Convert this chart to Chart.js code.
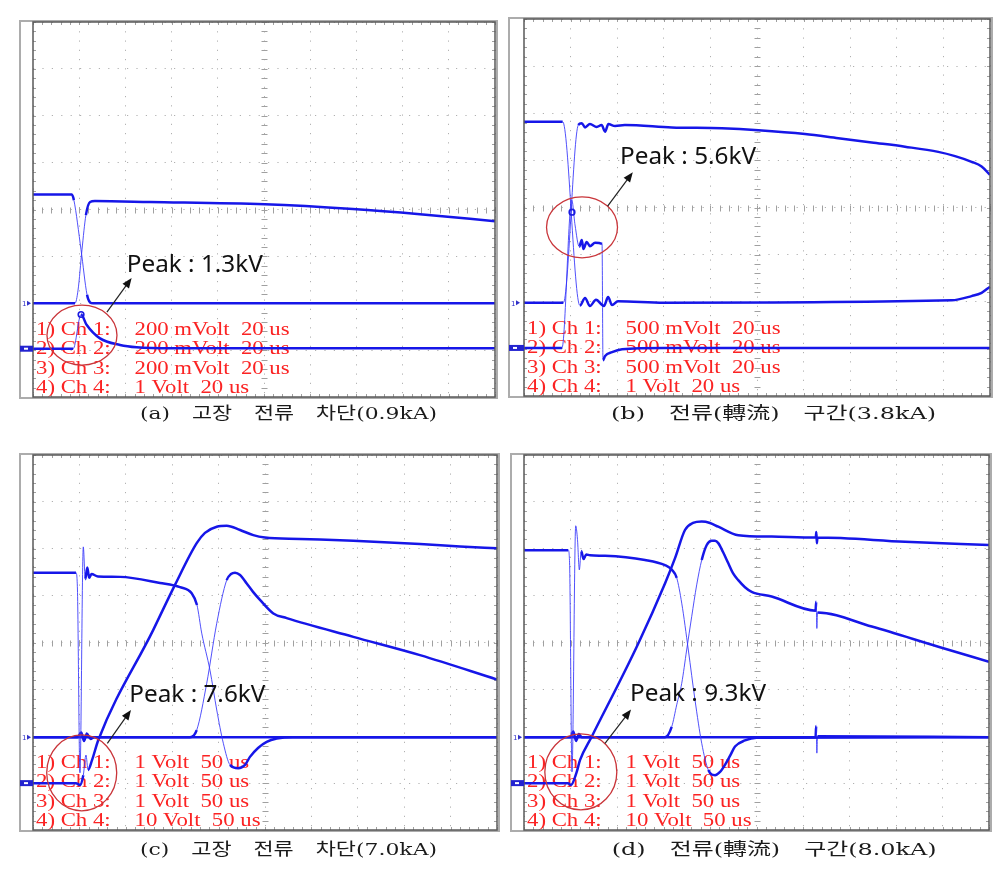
<!DOCTYPE html>
<html><head><meta charset="utf-8">
<script src="https://cdn.jsdelivr.net/npm/chart.js@4.4.1/dist/chart.umd.min.js"></script>
<style>
html,body{margin:0;padding:0;background:#fff;}
body{width:1007px;height:882px;position:relative;overflow:hidden;}
canvas{position:absolute;}
</style></head><body>
<canvas id="pa" width="503" height="441" style="left:0;top:0"></canvas>
<canvas id="pb" width="504" height="441" style="left:503px;top:0"></canvas>
<canvas id="pc" width="503" height="441" style="left:0;top:441px"></canvas>
<canvas id="pd" width="504" height="441" style="left:503px;top:441px"></canvas>
<script>
// ---- channel labels / captions ----
const chNames = ['1) Ch 1:', '2) Ch 2:', '3) Ch 3:', '4) Ch 4:'];
const aScales = ['200 mVolt  20 us', '200 mVolt  20 us', '200 mVolt  20 us', '1 Volt  20 us'];
const bScales = ['500 mVolt  20 us', '500 mVolt  20 us', '500 mVolt  20 us', '1 Volt  20 us'];
const cScales = ['1 Volt  50 us', '1 Volt  50 us', '1 Volt  50 us', '10 Volt  50 us'];
const dScales = ['1 Volt  50 us', '1 Volt  50 us', '1 Volt  50 us', '10 Volt  50 us'];
const captions = ['(a)\u3000고장\u3000전류\u3000차단(0.9kA)', '(b)\u3000전류(轉流)\u3000구간(3.8kA)',
                  '(c)\u3000고장\u3000전류\u3000차단(7.0kA)', '(d)\u3000전류(轉流)\u3000구간(8.0kA)'];
const peaks = ['Peak : 1.3kV', 'Peak : 5.6kV', 'Peak : 7.6kV', 'Peak : 9.3kV'];

// ---- traces: [time (us), screen divisions] ----
const aCh1 = [[0,0.32],[16.8,0.32],[17.7,0.2],[20.8,-0.86],[23.4,-1.82],[24.7,-1.98],[26,-2.0],[200,-2.0]];
const aCh2 = [[0,-2.0],[18.2,-2.0],[19.5,-1.72],[21.2,-0.86],[22.9,-0.12],[24.7,0.16],[26.8,0.18],[50.6,0.16],[100.4,0.11],[138.5,0.01],[167.5,-0.10],[200,-0.25]];
const aCh3 = [[0,-2.97],[17.4,-2.97],[20.8,-2.24],[23.2,-2.46],[29,-2.75],[37.7,-2.89],[44.9,-2.94],[60,-2.96],[200,-2.96]];

const bCh1 = [[0,1.82],[16.6,1.82],[24.0,-2.08],[26.2,-1.92],[28.3,-2.09],[30.9,-1.96],[34.3,-2.09],[36.1,-1.9],[37.8,-2.07],[40.3,-1.99],[60,-2.02],[183.6,-1.97],[192.1,-1.88],[196.4,-1.81],[200,-1.68]];
const bCh2 = [[0,-2.02],[16.9,-2.02],[23.3,1.75],[24.8,1.79],[26.2,1.70],[28.3,1.77],[31.2,1.71],[33.3,1.75],[34.8,1.61],[36.2,1.77],[39.1,1.73],[43.3,1.75],[63.4,1.70],[84.9,1.68],[100.6,1.64],[120.6,1.56],[134.9,1.47],[149.2,1.38],[163.5,1.29],[177.8,1.18],[185,1.09],[192.1,0.97],[196.4,0.87],[200,0.69]];
const bCh3 = [[0,-2.98],[16.3,-2.98],[20.5,0.16],[21.9,-0.37],[23.7,-0.83],[24.8,-0.69],[25.5,-0.88],[26.9,-0.73],[28.3,-0.82],[30.5,-0.75],[33.5,-0.77],[33.9,-3.24],[34.8,-3.15],[37.8,-3.07],[42.1,-3.01],[60,-2.98],[200,-2.98]];

const cCh1 = [[0,1.49],[46.3,1.49],[47.8,1.2],[50.6,-2.78],[54.2,2.04],[56.3,1.35],[58.5,1.6],[60.5,1.38],[63,1.46],[70,1.41],[93.8,1.40],[136.9,1.27],[158.4,1.18],[171,1.05],[176.7,0.80],[181.8,0.20],[190.7,-0.59],[198,-1.44],[205.1,-2.15],[212.3,-2.61],[221.2,-2.68],[228.5,-2.61],[233.8,-2.44],[242.5,-2.25],[251.8,-2.12],[262.6,-2.05],[280,-2.02],[500,-2.02]];
const cCh2 = [[0,-3.0],[46.3,-3.0],[50.6,-3.04],[54.2,-2.83],[57.1,-2.4],[59.3,-2.72],[63.6,-2.51],[70.4,-2.08],[129.6,0.27],[153,1.23],[176.4,2.12],[185.3,2.34],[198,2.47],[208.7,2.49],[223.1,2.40],[237.4,2.29],[250,2.24],[287.7,2.21],[345.2,2.17],[417,2.10],[460.1,2.05],[500,2.01]];
const cCh3 = [[0,-2.02],[169.2,-2.02],[176.4,-1.87],[187.2,-0.87],[198,0.41],[208.7,1.33],[213.4,1.46],[217.7,1.49],[223.1,1.44],[230.3,1.26],[237.1,1.08],[244.6,0.91],[259,0.62],[273.4,0.52],[345.2,0.12],[417,-0.27],[500,-0.79]];
const cCh4 = [[0,-2.02],[48,-2.02],[52,-1.92],[55,-2.1],[58,-1.94],[62,-2.06],[66,-2.02],[500,-2.02]];

const dCh1 = [[0,1.97],[47.6,1.97],[49,1.7],[51.6,-2.76],[55.6,2.49],[57.5,2.2],[59.5,1.55],[61.5,1.95],[64,1.78],[67,1.88],[71,1.86],[87.1,1.85],[130.1,1.76],[151.6,1.65],[159.1,1.55],[164.2,1.38],[169.6,0.84],[176.7,-0.16],[183.9,-1.23],[191.1,-2.15],[198.2,-2.72],[205.4,-2.83],[210.8,-2.76],[216.1,-2.61],[221.5,-2.42],[226.9,-2.22],[237.6,-2.09],[250,-2.03],[500,-2.02]];
const dCh2 = [[0,-3.0],[47.3,-3.0],[50.5,-3.04],[56.7,-2.76],[60.2,-2.51],[72.8,-2.01],[122.9,-0.02],[151.6,1.26],[162.4,1.80],[173.1,2.40],[181.7,2.55],[191.1,2.58],[200,2.55],[208.9,2.47],[230.4,2.29],[266.3,2.26],[313.8,2.24],[314.3,2.36],[314.9,2.12],[315.5,2.24],[409.7,2.15],[500,2.08]];
const dCh3 = [[0,-2.02],[151.6,-2.02],[158.8,-1.80],[164.2,-1.33],[169.6,-0.87],[174.9,-0.16],[180.3,0.55],[185.7,1.23],[191.1,1.76],[196.5,2.08],[201.8,2.17],[205.4,2.17],[208.9,2.12],[214,1.93],[219.7,1.69],[224.7,1.48],[230.4,1.33],[237.6,1.18],[244.8,1.08],[266.3,0.98],[313.5,0.68],[314.2,0.87],[314.9,0.30],[315.6,0.64],[373.9,0.34],[445.5,-0.09],[500,-0.41]];
const dCh4 = [[0,-2.02],[50,-2.02],[53,-1.9],[56,-2.1],[59,-1.95],[62,-2.02],[313.5,-2.02],[314.2,-1.78],[314.9,-2.36],[315.6,-2.0],[500,-2.02]];

// ---- drawing helpers ----
function fitText(ctx, text, x, y, font, width, sx) {
  ctx.font = font;
  const w = ctx.measureText(text).width;
  const k = width ? width / w : (sx || 1);
  ctx.save(); ctx.translate(x, y); ctx.scale(k, 1); ctx.fillText(text, 0, 0); ctx.restore();
}

const scopePlugin = {
  id: 'scopeDeco',
  beforeDatasetsDraw(chart, args, o) {
    const {ctx, chartArea: a, scales: {x, y}} = chart;
    ctx.save();
    // outer screen frame + left strip
    ctx.strokeStyle = '#acacac'; ctx.lineWidth = 2;
    ctx.strokeRect(a.left - o.strip, a.top - 1, a.right - a.left + o.strip + 2, a.bottom - a.top + 2);
    // minor ticks
    ctx.strokeStyle = '#a0a0a0'; ctx.lineWidth = 1;
    const xs = x.options.ticks.stepSize / 5;
    const xc = Math.round(x.getPixelForValue((x.min + x.max) / 2)) + 0.5;
    const yc = Math.round(y.getPixelForValue(0)) + 0.5;
    ctx.beginPath();
    for (let i = 0; i <= 50; i++) {
      const px = Math.round(x.getPixelForValue(x.min + i * xs)) + 0.5;
      ctx.moveTo(px, yc - 3); ctx.lineTo(px, yc + 3);
      ctx.moveTo(px, a.top); ctx.lineTo(px, a.top + 3);
      ctx.moveTo(px, a.bottom); ctx.lineTo(px, a.bottom - 3);
    }
    for (let i = 0; i <= 40; i++) {
      const py = Math.round(y.getPixelForValue(y.min + i * 0.2)) + 0.5;
      ctx.moveTo(xc - 3, py); ctx.lineTo(xc + 3, py);
      ctx.moveTo(a.left, py); ctx.lineTo(a.left + 3, py);
      ctx.moveTo(a.right, py); ctx.lineTo(a.right - 3, py);
    }
    ctx.stroke();
    // red channel labels
    ctx.fillStyle = '#fb2323'; ctx.textBaseline = 'alphabetic'; ctx.textAlign = 'left';
    const rows = [62.5, 43, 23.5, 4.3];
    rows.forEach((r, i) => {
      fitText(ctx, chNames[i], a.left + 3, a.bottom - r, '18.5px "Liberation Serif"', 0, 1.23);
      fitText(ctx, o.scales[i], a.left + 101.5, a.bottom - r, '18.5px "Liberation Serif"', 0, 1.23);
    });
    ctx.restore();
  },
  afterDatasetsDraw(chart, args, o) {
    const {ctx, chartArea: a, scales: {x, y}} = chart;
    const P = p => [x.getPixelForValue(p[0]), y.getPixelForValue(p[1])];
    ctx.save();
    // inner frame
    ctx.strokeStyle = '#5a5a5a'; ctx.lineWidth = 1.5;
    ctx.strokeRect(a.left, a.top, a.right - a.left, a.bottom - a.top);
    // left strip markers
    const ych = y.getPixelForValue(o.levels[0]), ygn = y.getPixelForValue(o.levels[1]);
    ctx.fillStyle = '#2323d0';
    ctx.fillRect(a.left - o.strip, ygn - 3, o.strip, 6);
    ctx.fillStyle = '#fff';
    ctx.fillRect(a.left - o.strip + 4, ygn - 1, 4, 2);
    ctx.fillStyle = '#3030c8';
    ctx.font = '7px "DejaVu Sans"';
    ctx.fillText('1', a.left - o.strip + 2, ych + 3);
    ctx.beginPath(); ctx.moveTo(a.left - o.strip + 7, ych - 2.5); ctx.lineTo(a.left - o.strip + 11, ych); ctx.lineTo(a.left - o.strip + 7, ych + 2.5); ctx.fill();
    // peak marker dot
    if (o.dot) {
      const d = P(o.dot);
      ctx.strokeStyle = '#1a1ae0'; ctx.lineWidth = 1.6;
      ctx.beginPath(); ctx.arc(d[0], d[1], 2.8, 0, Math.PI * 2); ctx.stroke();
    }
    // ellipse
    const c = P(o.ellipse.c);
    ctx.strokeStyle = '#c9353a'; ctx.lineWidth = 1.3;
    ctx.beginPath(); ctx.ellipse(c[0], c[1], o.ellipse.rx, o.ellipse.ry, 0, 0, Math.PI * 2); ctx.stroke();
    // arrow
    const p0 = P(o.arrow[0]), p1 = P(o.arrow[1]);
    const ang = Math.atan2(p1[1] - p0[1], p1[0] - p0[0]);
    ctx.strokeStyle = '#222'; ctx.fillStyle = '#111'; ctx.lineWidth = 1.2;
    ctx.beginPath(); ctx.moveTo(p0[0], p0[1]);
    ctx.lineTo(p1[0] - 7 * Math.cos(ang), p1[1] - 7 * Math.sin(ang)); ctx.stroke();
    ctx.beginPath(); ctx.moveTo(p1[0], p1[1]);
    ctx.lineTo(p1[0] - 10 * Math.cos(ang) + 4 * Math.sin(ang), p1[1] - 10 * Math.sin(ang) - 4 * Math.cos(ang));
    ctx.lineTo(p1[0] - 10 * Math.cos(ang) - 4 * Math.sin(ang), p1[1] - 10 * Math.sin(ang) + 4 * Math.cos(ang));
    ctx.closePath(); ctx.fill();
    // peak text
    const t = P(o.textAt);
    ctx.fillStyle = '#111';
    fitText(ctx, o.peak, t[0], t[1], '23px "Noto Sans"', 136);
    // caption
    ctx.fillStyle = '#1a1a1a';
    fitText(ctx, o.caption, o.capPos[0], o.capPos[1], '17px "DejaVu Serif", "Noto Sans CJK KR"', o.capPos[2]);
    ctx.restore();
  }
};

function ds(arr) {
  return {
    data: arr.map(p => ({x: p[0], y: p[1]})),
    borderColor: '#1616e8', borderWidth: 2.5, pointRadius: 0, fill: false,
    cubicInterpolationMode: 'monotone',
    segment: {
      borderWidth: s => {
        const dx = Math.abs(s.p1.x - s.p0.x), dy = Math.abs(s.p1.y - s.p0.y);
        return (dy > 3.2 * dx && dy > 12) ? 1 : undefined;
      },
      borderColor: s => {
        const dx = Math.abs(s.p1.x - s.p0.x), dy = Math.abs(s.p1.y - s.p0.y);
        return (dy > 3.2 * dx && dy > 12) ? 'rgba(50,50,250,0.85)' : undefined;
      }
    }
  };
}

function makeChart(id, pad, xMax, traces, deco) {
  const gridOpts = {color: '#b0b0b0', lineWidth: 1, drawTicks: false};
  return new Chart(document.getElementById(id), {
    type: 'line',
    data: {datasets: traces.map(ds)},
    options: {
      responsive: false, animation: false, events: [],
      layout: {padding: pad},
      plugins: {legend: {display: false}, tooltip: {enabled: false}, scopeDeco: deco},
      scales: {
        x: {type: 'linear', min: 0, max: xMax, ticks: {display: false, stepSize: xMax / 10},
            grid: gridOpts, border: {display: false, dash: [1.2, 8.05]}, afterFit: s => { s.height = 0; }},
        y: {type: 'linear', min: -4, max: 4, ticks: {display: false, stepSize: 1},
            grid: gridOpts, border: {display: false, dash: [1.2, 8.2]}, afterFit: s => { s.width = 0; }}
      }
    },
    plugins: [scopePlugin]
  });
}

makeChart('pa', {left: 33, top: 22, right: 8, bottom: 44}, 200, [aCh1, aCh2, aCh3], {
  strip: 13, scales: aScales, levels: [-2.0, -2.97], dot: [20.8, -2.24],
  ellipse: {c: [21.2, -2.68], rx: 35, ry: 30}, arrow: [[32.0, -2.19], [42.7, -1.46]],
  peak: peaks[0], textAt: [40.6, -1.33], caption: captions[0], capPos: [140, 419, 297]
});
makeChart('pb', {left: 21, top: 19, right: 17, bottom: 45}, 200, [bCh1, bCh2, bCh3], {
  strip: 15, scales: bScales, levels: [-2.02, -2.98], dot: [20.6, -0.1],
  ellipse: {c: [24.9, -0.42], rx: 35.5, ry: 30.5}, arrow: [[35.9, 0.03], [46.7, 0.75]],
  peak: peaks[1], textAt: [41.2, 0.92], caption: captions[1], capPos: [108, 419, 325]
});
makeChart('pc', {left: 33, top: 14, right: 6, bottom: 52}, 500, [cCh1, cCh2, cCh3, cCh4], {
  strip: 13, scales: cScales, levels: [-2.02, -3.0], dot: null,
  ellipse: {c: [52.5, -2.78], rx: 35, ry: 38}, arrow: [[80.1, -2.15], [105.6, -1.44]],
  peak: peaks[2], textAt: [103.8, -1.26], caption: captions[2], capPos: [140, 414, 297]
});
makeChart('pd', {left: 21, top: 14, right: 18, bottom: 52}, 500, [dCh1, dCh2, dCh3, dCh4], {
  strip: 13, scales: dScales, levels: [-2.02, -3.0], dot: null,
  ellipse: {c: [61.1, -2.76], rx: 36, ry: 38}, arrow: [[87.1, -2.15], [115.1, -1.43]],
  peak: peaks[3], textAt: [114, -1.24], caption: captions[3], capPos: [108.7, 414, 325]
});
</script>
</body></html>
